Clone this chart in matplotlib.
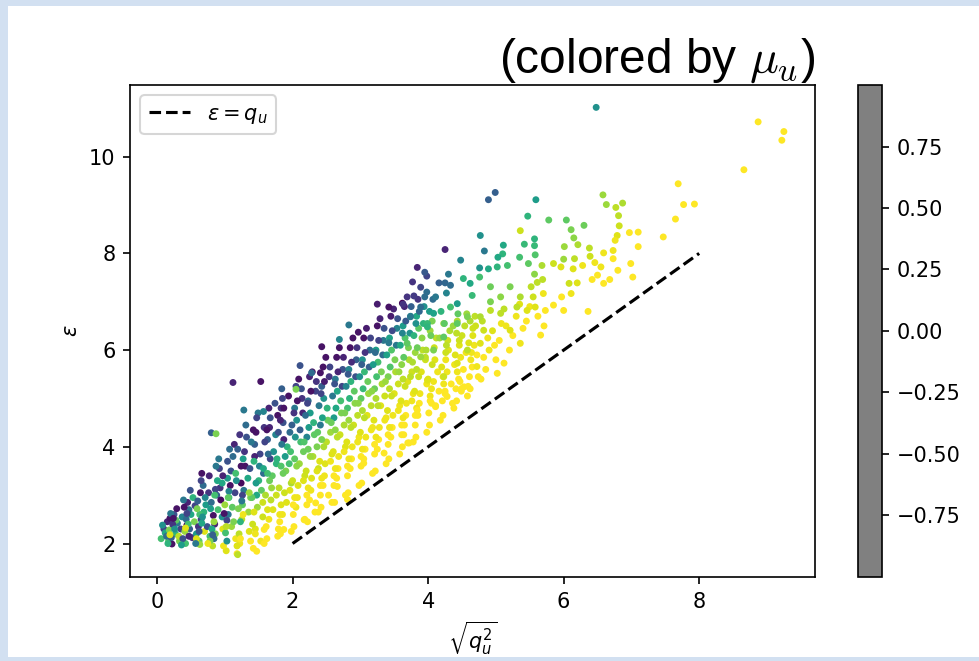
import numpy as np
import matplotlib
matplotlib.use("Agg")
import matplotlib.pyplot as plt
from matplotlib.colors import Normalize, ListedColormap
from matplotlib.cm import ScalarMappable
from matplotlib.patches import Rectangle

# core of the cloud, read column by column (q, eps, mu)
q_core = [
    0.06, 0.10, 0.12, 0.15, 0.08, 0.17, 0.14, 0.19,
    0.22, 0.25, 0.27, 0.30, 0.33, 0.29, 0.35, 0.24, 0.37, 0.32, 0.28,
    0.42, 0.45, 0.48, 0.50, 0.52, 0.49, 0.55, 0.47, 0.58, 0.53, 0.44, 0.56,
    0.62, 0.65, 0.68, 0.70, 0.72, 0.66, 0.74, 0.69, 0.76, 0.63, 0.78, 0.71, 0.80, 0.87,
    0.82, 0.85, 0.88, 0.90, 0.92, 0.86, 0.94, 0.89, 0.96, 0.91, 0.84, 0.97, 0.93,
    1.02, 1.05, 1.08, 1.10, 1.12, 1.06, 1.14, 1.09, 1.16, 1.11, 1.18, 1.04, 1.15, 1.13,
    1.22, 1.25, 1.28, 1.30, 1.32, 1.26, 1.34, 1.29, 1.36, 1.31, 1.24, 1.38, 1.27, 1.35,
    1.42, 1.45, 1.48, 1.50, 1.52, 1.46, 1.54, 1.49, 1.56, 1.51, 1.44, 1.58, 1.47, 1.53, 1.57,
    1.62, 1.65, 1.68, 1.70, 1.72, 1.66, 1.74, 1.69, 1.76, 1.63, 1.78, 1.71, 1.75, 1.67, 1.79,
    1.82, 1.85, 1.88, 1.90, 1.92, 1.86, 1.94, 1.89, 1.96, 1.83, 1.98, 1.91, 1.87, 1.95, 1.84,
    2.02, 2.05, 2.08, 2.10, 2.12, 2.06, 2.14, 2.09, 2.16, 2.11, 2.03, 2.18, 2.07, 2.15, 2.13,
    2.22, 2.25, 2.28, 2.30, 2.32, 2.26, 2.34, 2.29, 2.36, 2.31, 2.23, 2.38, 2.27, 2.35, 2.21, 2.33,
    2.42, 2.45, 2.48, 2.50, 2.52, 2.46, 2.54, 2.49, 2.56, 2.51, 2.43, 2.58, 2.47, 2.55, 2.41, 2.53,
    2.62, 2.65, 2.68, 2.70, 2.72, 2.66, 2.74, 2.69, 2.76, 2.71, 2.63, 2.78, 2.67, 2.75, 2.61, 2.73,
    2.82, 2.85, 2.88, 2.90, 2.92, 2.86, 2.94, 2.89, 2.96, 2.91, 2.83, 2.98, 2.87, 2.95, 2.81, 2.93,
    3.02, 3.05, 3.08, 3.10, 3.12, 3.06, 3.14, 3.09, 3.16, 3.11, 3.03, 3.18, 3.07, 3.15, 3.01, 3.13,
    3.22, 3.25, 3.28, 3.30, 3.32, 3.26, 3.34, 3.29, 3.36, 3.31, 3.23, 3.38, 3.27, 3.35, 3.21, 3.33,
    3.42, 3.45, 3.48, 3.50, 3.52, 3.46, 3.54, 3.49, 3.56, 3.51, 3.43, 3.58, 3.47, 3.55, 3.41, 3.53,
    3.62, 3.65, 3.68, 3.70, 3.72, 3.66, 3.74, 3.69, 3.76, 3.71, 3.63, 3.78, 3.67, 3.75, 3.61, 3.73,
    3.82, 3.85, 3.88, 3.90, 3.92, 3.86, 3.94, 3.89, 3.96, 3.91, 3.83, 3.98, 3.87, 3.95, 3.81, 3.93,
    4.02, 4.05, 4.08, 4.10, 4.12, 4.06, 4.14, 4.09, 4.16, 4.03,
    4.22, 4.25, 4.28, 4.30, 4.32, 4.26, 4.34, 4.29, 4.36, 4.23,
    4.42, 4.45, 4.48, 4.50, 4.52, 4.46, 4.54, 4.49, 4.56, 4.43,
    4.62, 4.65, 4.68, 4.70, 4.72, 4.66, 4.74, 4.69,
    4.85, 4.90, 4.95, 5.00, 5.05, 5.15, 5.20, 5.30, 5.40, 5.50,
]
eps_core = [
    2.10, 2.30, 2.22, 2.45, 2.38, 2.05, 2.15, 2.52,
    1.99, 2.60, 2.20, 2.42, 2.05, 2.72, 2.30, 2.35, 2.55, 2.15, 2.48,
    2.00, 2.85, 2.30, 2.60, 2.12, 3.10, 2.45, 2.70, 2.20, 2.95, 2.38, 2.78,
    2.05, 2.50, 3.20, 2.25, 2.80, 3.45, 2.35, 2.65, 3.05, 1.98, 2.15, 2.95, 4.29, 4.27,
    1.95, 2.40, 3.00, 2.70, 3.55, 2.20, 2.90, 3.30, 2.55, 3.75, 2.10, 2.30, 3.15,
    1.85, 2.60, 3.20, 2.35, 3.80, 2.95, 4.05, 3.50, 2.10, 2.75, 1.79, 3.35, 3.05, 2.45,
    2.00, 2.50, 3.10, 3.60, 4.20, 2.80, 3.35, 3.90, 2.25, 4.45, 3.25, 2.95, 3.75, 2.65,
    1.90, 2.30, 2.75, 3.30, 3.85, 4.30, 3.10, 4.70, 2.55, 3.60, 4.05, 4.40, 3.00, 2.05, 3.45,
    2.10, 2.50, 2.90, 3.40, 3.90, 4.40, 4.90, 3.15, 3.65, 4.15, 4.65, 2.70, 4.25, 3.75, 2.30,
    2.20, 2.60, 3.05, 3.50, 4.00, 4.50, 5.05, 3.80, 4.30, 4.80, 3.25, 2.85, 4.15, 3.65, 5.20,
    2.35, 2.75, 3.20, 3.65, 4.10, 4.55, 5.00, 5.40, 3.90, 4.35, 4.80, 3.40, 2.95, 4.70, 5.20,
    2.45, 2.90, 3.35, 3.80, 4.25, 4.70, 5.15, 5.55, 4.00, 4.50, 4.95, 3.55, 3.10, 5.35, 4.20, 2.65,
    2.75, 3.20, 3.65, 4.10, 4.55, 5.00, 5.45, 5.85, 4.30, 4.80, 5.25, 3.85, 3.40, 5.65, 4.45, 3.00,
    2.85, 3.35, 3.80, 4.25, 4.70, 5.15, 5.60, 6.05, 4.45, 4.95, 5.40, 4.00, 3.55, 5.85, 4.60, 5.25,
    3.05, 3.55, 4.00, 4.45, 4.90, 5.35, 5.80, 6.25, 4.65, 5.15, 5.60, 4.20, 3.75, 6.05, 4.80, 5.45,
    3.25, 3.75, 4.20, 4.65, 5.10, 5.55, 6.00, 6.45, 4.85, 5.35, 5.80, 4.40, 3.95, 6.25, 5.00, 5.65,
    3.50, 3.95, 4.40, 4.85, 5.30, 5.75, 6.20, 6.65, 5.05, 5.55, 6.00, 4.60, 4.15, 6.45, 5.20, 5.90,
    3.75, 4.20, 4.65, 5.10, 5.55, 6.00, 6.45, 6.85, 5.30, 5.80, 6.25, 4.85, 4.40, 6.65, 5.45, 6.10,
    4.00, 4.45, 4.90, 5.35, 5.80, 6.25, 6.70, 7.10, 5.55, 6.05, 6.50, 5.10, 4.65, 6.90, 5.70, 6.35,
    4.20, 4.65, 5.10, 5.55, 6.00, 6.45, 6.90, 7.30, 5.80, 6.25, 6.70, 5.30, 4.90, 7.10, 5.95, 6.55,
    4.45, 4.90, 5.35, 5.80, 6.25, 6.60, 5.55, 6.05, 5.15, 6.40,
    4.65, 5.10, 5.55, 6.00, 6.40, 5.80, 5.30, 6.20, 4.90, 6.55,
    4.95, 5.40, 5.85, 6.30, 5.60, 6.10, 6.50, 5.15, 5.95, 6.60,
    5.20, 5.65, 6.10, 6.50, 5.90, 6.30, 5.45, 6.70,
    5.60, 6.00, 6.40, 5.80, 6.20, 6.50, 6.00, 6.70, 6.45, 6.90,
]
mu_core = [
    0.4, -0.6, 0.2, -0.8, 0.0, 0.5, -0.3, -0.9,
    -0.9, -0.5, 0.3, -0.2, 0.6, -0.9, -0.6, 0.1, -0.1, 0.8, 0.5,
    0.4, -0.8, -0.4, 0.2, -0.7, -0.5, 0.6, -0.2, 0.1, 0.3, -0.95, -0.6,
    0.5, -0.6, -0.3, 0.9, 0.1, -0.9, -0.5, 0.3, -0.7, 0.7, 0.4, -0.1, -0.4, 0.6,
    0.8, -0.8, -0.4, 0.4, -0.6, 0.6, -0.95, 0.2, 0.0, -0.2, -0.3, 0.9, -0.7,
    0.9, -0.2, -0.9, 0.7, -0.3, 0.3, -0.8, -0.5, 0.95, 0.5, 1.0, 0.1, -0.6, 0.6,
    0.95, 0.8, -0.2, -0.9, -0.5, 0.5, 0.2, -0.7, 0.9, -0.3, -0.95, 0.6, 0.1, 0.7,
    1.0, 0.9, 0.7, 0.3, -0.6, -0.9, 0.5, -0.2, 0.85, -0.1, -0.4, -0.7, 0.2, 0.95, -0.3,
    1.0, 0.95, 0.8, 0.5, 0.0, -0.8, -0.5, 0.7, 0.3, -0.4, -0.9, 0.9, -0.1, -0.6, 1.0,
    1.0, 0.95, 0.85, 0.6, 0.3, -0.5, -0.9, 0.1, -0.3, -0.7, 0.75, 0.9, -0.8, 0.4, -0.4,
    1.0, 0.95, 0.9, 0.7, 0.4, 0.0, -0.7, -0.9, 0.55, -0.4, -0.2, 0.85, 0.95, -0.8, -0.5,
    1.0, 1.0, 0.9, 0.75, 0.5, 0.1, -0.6, -0.9, 0.6, 0.3, -0.3, 0.85, 0.95, -0.7, -0.1, 1.0,
    1.0, 1.0, 0.9, 0.8, 0.55, 0.0, -0.7, -0.9, 0.7, 0.3, -0.4, 0.9, 0.95, -0.6, -0.2, 1.0,
    1.0, 1.0, 0.95, 0.85, 0.6, 0.2, -0.5, -0.9, 0.75, 0.4, -0.2, 0.9, 1.0, -0.8, 0.1, -0.6,
    1.0, 1.0, 0.95, 0.85, 0.65, 0.3, -0.4, -0.9, 0.8, 0.5, -0.1, 0.95, 1.0, -0.7, 0.4, -0.5,
    1.0, 1.0, 0.95, 0.9, 0.7, 0.35, -0.3, -0.85, 0.8, 0.55, 0.0, 0.95, 1.0, -0.6, 0.5, -0.4,
    1.0, 1.0, 0.95, 0.9, 0.75, 0.4, -0.2, -0.8, 0.85, 0.6, 0.1, 0.95, 1.0, -0.5, 0.55, -0.3,
    1.0, 1.0, 0.95, 0.9, 0.75, 0.45, -0.1, -0.8, 0.85, 0.6, 0.15, 0.95, 1.0, -0.5, 0.6, -0.2,
    1.0, 1.0, 0.95, 0.9, 0.75, 0.45, -0.1, -0.7, 0.85, 0.6, 0.1, 0.95, 1.0, -0.4, 0.65, 0.0,
    1.0, 1.0, 0.95, 0.9, 0.8, 0.5, 0.0, -0.6, 0.85, 0.65, 0.2, 0.95, 1.0, -0.3, 0.7, 0.3,
    1.0, 1.0, 0.95, 0.9, 0.8, 0.6, 0.95, 0.85, 1.0, 0.7,
    1.0, 1.0, 0.95, 0.9, 0.75, 0.95, 1.0, 0.85, 1.0, 0.7,
    1.0, 1.0, 0.95, 0.85, 1.0, 0.9, 0.8, 1.0, 0.95, 0.75,
    1.0, 1.0, 0.95, 0.85, 1.0, 0.9, 1.0, 0.8,
    1.0, 0.95, 0.9, 1.0, 1.0, 0.95, 1.0, 0.95, 1.0, 0.95,
]

# second pass through the core, between the columns above
q_fill = [
    0.18, 0.21, 0.23, 0.20, 0.26, 0.16, 0.24, 0.19,
    0.38, 0.41, 0.43, 0.40, 0.46, 0.36, 0.44, 0.39, 0.42, 0.47,
    0.58, 0.61, 0.63, 0.60, 0.66, 0.57, 0.64, 0.59, 0.62, 0.67, 0.65,
    0.78, 0.81, 0.83, 0.80, 0.86, 0.77, 0.84, 0.79, 0.82, 0.87, 0.85, 0.75,
    0.98, 1.01, 1.03, 1.00, 1.06, 0.97, 1.04, 0.99, 1.02, 1.07, 1.05, 0.96, 1.03,
    1.18, 1.21, 1.23, 1.20, 1.26, 1.17, 1.24, 1.19, 1.22, 1.27, 1.25, 1.16, 1.23,
    1.38, 1.41, 1.43, 1.40, 1.46, 1.37, 1.44, 1.39, 1.42, 1.47, 1.45, 1.36, 1.43,
    1.58, 1.61, 1.63, 1.60, 1.66, 1.57, 1.64, 1.59, 1.62, 1.67, 1.65, 1.56, 1.63,
    1.78, 1.81, 1.83, 1.80, 1.86, 1.77, 1.84, 1.79, 1.82, 1.87, 1.85, 1.76, 1.83, 1.81,
    1.98, 2.01, 2.03, 2.00, 2.06, 1.97, 2.04, 1.99, 2.02, 2.07, 2.05, 1.96, 2.03, 2.01,
    2.18, 2.21, 2.23, 2.20, 2.26, 2.17, 2.24, 2.19, 2.22, 2.27, 2.25, 2.16, 2.23, 2.21,
    2.38, 2.41, 2.43, 2.40, 2.46, 2.37, 2.44, 2.39, 2.42, 2.47, 2.45, 2.36, 2.43, 2.41,
    2.58, 2.61, 2.63, 2.60, 2.66, 2.57, 2.64, 2.59, 2.62, 2.67, 2.65, 2.56, 2.63, 2.61,
    2.78, 2.81, 2.83, 2.80, 2.86, 2.77, 2.84, 2.79, 2.82, 2.87, 2.85, 2.76, 2.83, 2.81,
    2.98, 3.01, 3.03, 3.00, 3.06, 2.97, 3.04, 2.99, 3.02, 3.07, 3.05, 2.96, 3.03, 3.01,
    3.18, 3.21, 3.23, 3.20, 3.26, 3.17, 3.24, 3.19, 3.22, 3.27, 3.25, 3.16, 3.23, 3.21,
    3.38, 3.41, 3.43, 3.40, 3.46, 3.37, 3.44, 3.39, 3.42, 3.47, 3.45, 3.36, 3.43, 3.41,
    3.58, 3.61, 3.63, 3.60, 3.66, 3.57, 3.64, 3.59, 3.62, 3.67, 3.65, 3.56, 3.63, 3.61,
    3.78, 3.81, 3.83, 3.80, 3.86, 3.77, 3.84, 3.79, 3.82, 3.87, 3.85, 3.76, 3.83, 3.81,
    3.98, 4.01, 4.03, 4.00, 4.06, 3.97, 4.04, 3.99, 4.02, 4.07, 4.05, 3.96, 4.03,
    4.18, 4.21, 4.23, 4.20, 4.26, 4.17, 4.24, 4.19, 4.22, 4.27, 4.25,
    4.38, 4.41, 4.43, 4.40, 4.46, 4.37, 4.44, 4.39, 4.42, 4.47,
    4.58, 4.61, 4.63, 4.60, 4.66, 4.57, 4.64, 4.59, 4.62,
    4.78, 4.82, 4.88, 4.80, 4.92, 4.98, 5.08, 5.12, 5.25, 5.35, 5.45, 5.55, 5.62,
]
eps_fill = [
    2.28, 2.12, 2.40, 2.62, 2.30, 2.00, 2.52, 2.18,
    2.10, 2.25, 2.50, 2.75, 2.40, 1.97, 2.62, 2.90, 2.32, 2.15,
    2.10, 2.35, 2.60, 2.88, 2.42, 2.00, 3.05, 2.72, 2.25, 2.55, 3.30,
    2.05, 2.30, 2.58, 2.85, 3.12, 3.40, 2.45, 2.72, 2.18, 3.60, 3.00, 2.00,
    1.95, 2.22, 2.48, 2.80, 3.08, 3.40, 3.70, 2.62, 2.35, 3.95, 2.95, 3.25, 2.05,
    1.95, 2.20, 2.45, 2.72, 3.00, 3.30, 3.60, 3.95, 4.25, 2.60, 2.88, 3.45, 2.10,
    2.05, 2.40, 2.65, 2.95, 3.25, 3.55, 3.80, 4.10, 4.35, 4.60, 2.20, 3.05, 3.70,
    2.00, 2.35, 2.70, 3.00, 3.30, 3.55, 3.85, 4.10, 4.35, 4.60, 4.80, 2.85, 3.45,
    2.15, 2.45, 2.80, 3.15, 3.45, 3.75, 4.05, 4.30, 4.55, 4.80, 5.00, 3.00, 3.60, 2.60,
    2.25, 2.60, 2.95, 3.30, 3.60, 3.90, 4.20, 4.45, 4.70, 4.95, 5.25, 3.10, 3.75, 2.80,
    2.50, 2.80, 3.15, 3.50, 3.80, 4.10, 4.40, 4.65, 4.90, 5.15, 5.45, 3.30, 3.95, 3.00,
    2.65, 3.00, 3.35, 3.70, 4.00, 4.30, 4.60, 4.85, 5.10, 5.35, 5.65, 3.50, 4.15, 3.20,
    2.85, 3.20, 3.55, 3.90, 4.20, 4.50, 4.80, 5.05, 5.30, 5.55, 5.85, 3.70, 4.35, 3.40,
    3.00, 3.40, 3.75, 4.10, 4.40, 4.70, 5.00, 5.25, 5.50, 5.75, 6.05, 3.90, 4.55, 3.60,
    3.20, 3.60, 3.95, 4.30, 4.60, 4.90, 5.20, 5.45, 5.70, 5.95, 6.25, 4.10, 4.75, 3.80,
    3.45, 3.85, 4.20, 4.55, 4.85, 5.15, 5.45, 5.70, 5.95, 6.20, 6.50, 4.35, 5.00, 4.05,
    3.65, 4.05, 4.40, 4.75, 5.05, 5.35, 5.65, 5.90, 6.15, 6.40, 6.70, 4.55, 5.20, 4.25,
    3.85, 4.25, 4.60, 4.95, 5.25, 5.55, 5.85, 6.10, 6.35, 6.60, 6.90, 4.75, 5.40, 4.45,
    4.10, 4.45, 4.80, 5.15, 5.45, 5.75, 6.05, 6.30, 6.55, 6.80, 7.05, 4.95, 5.60, 4.65,
    4.30, 4.70, 5.05, 5.40, 5.70, 6.00, 6.30, 6.55, 6.80, 7.05, 5.20, 5.85, 4.95,
    4.55, 4.95, 5.30, 5.65, 5.95, 6.25, 6.55, 6.80, 5.45, 6.10, 5.15,
    4.80, 5.20, 5.55, 5.90, 6.20, 6.50, 6.75, 5.70, 6.35, 5.35,
    5.05, 5.45, 5.80, 6.15, 6.45, 6.75, 5.95, 5.25, 6.60,
    5.40, 5.85, 6.25, 6.60, 7.00, 6.10, 6.55, 6.85, 6.30, 6.95, 6.60, 7.10, 6.70,
]
mu_fill = [
    0.6, -0.4, -0.7, -0.2, 0.0, 0.3, -0.9, 0.9,
    -0.5, 0.7, -0.3, -0.9, 0.4, 0.1, -0.6, -0.2, 0.9, -0.8,
    0.9, -0.7, 0.4, -0.4, 0.2, -0.2, -0.9, 0.6, -0.5, 0.0, -0.6,
    0.6, 0.2, -0.9, -0.3, -0.6, -0.8, 0.7, 0.1, -0.4, -0.2, 0.4, 0.95,
    0.95, 0.4, -0.6, 0.7, -0.1, -0.8, -0.5, -0.9, 0.8, -0.3, 0.5, 0.2, 0.0,
    0.9, 0.8, 0.3, 0.6, -0.6, 0.0, -0.9, -0.4, -0.7, 0.95, -0.2, 0.4, 1.0,
    1.0, 0.85, 0.9, 0.5, 0.1, -0.5, -0.8, -0.2, -0.9, -0.6, 0.95, 0.7, 0.3,
    1.0, 1.0, 0.9, 0.75, 0.55, 0.2, -0.3, -0.6, -0.9, -0.5, -0.8, 0.85, 0.4,
    1.0, 1.0, 0.9, 0.8, 0.55, 0.3, -0.2, -0.5, -0.8, -0.9, -0.6, 0.85, 0.45, 0.95,
    1.0, 1.0, 0.95, 0.85, 0.65, 0.4, 0.0, -0.4, -0.7, -0.9, -0.6, 0.9, 0.5, 1.0,
    1.0, 1.0, 0.95, 0.85, 0.7, 0.45, 0.1, -0.3, -0.6, -0.9, -0.8, 0.9, 0.55, 1.0,
    1.0, 1.0, 0.95, 0.9, 0.75, 0.5, 0.15, -0.2, -0.6, -0.85, -0.9, 0.9, 0.6, 1.0,
    1.0, 1.0, 0.95, 0.9, 0.8, 0.55, 0.2, -0.2, -0.5, -0.8, -0.9, 0.95, 0.65, 1.0,
    1.0, 1.0, 0.95, 0.9, 0.8, 0.6, 0.3, -0.1, -0.45, -0.75, -0.9, 0.95, 0.7, 1.0,
    1.0, 1.0, 0.95, 0.9, 0.8, 0.65, 0.35, 0.0, -0.4, -0.7, -0.9, 0.95, 0.75, 1.0,
    1.0, 1.0, 0.95, 0.9, 0.8, 0.65, 0.4, 0.1, -0.3, -0.6, -0.9, 0.95, 0.75, 1.0,
    1.0, 1.0, 0.95, 0.9, 0.85, 0.7, 0.45, 0.15, -0.2, -0.55, -0.85, 0.95, 0.8, 1.0,
    1.0, 1.0, 0.95, 0.9, 0.85, 0.7, 0.5, 0.2, -0.1, -0.45, -0.8, 0.95, 0.8, 1.0,
    1.0, 1.0, 0.95, 0.9, 0.85, 0.75, 0.55, 0.3, 0.0, -0.35, -0.7, 0.95, 0.8, 1.0,
    1.0, 1.0, 0.95, 0.9, 0.85, 0.75, 0.55, 0.35, 0.1, -0.3, 0.95, 0.8, 1.0,
    1.0, 1.0, 0.95, 0.9, 0.85, 0.7, 0.5, 0.3, 0.95, 0.8, 1.0,
    1.0, 1.0, 0.95, 0.9, 0.85, 0.7, 0.5, 0.95, 0.8, 1.0,
    1.0, 1.0, 0.95, 0.9, 0.85, 0.7, 0.95, 1.0, 0.75,
    1.0, 1.0, 0.95, 0.8, 0.6, 1.0, 0.95, 0.8, 1.0, 0.9, 1.0, 0.85, 1.0,
]

# sparser upper-right part of the cloud
q_upper = [
    4.99, 4.89, 5.59, 5.47, 5.78, 6.04, 6.30, 6.58, 6.63, 6.77,
    6.87, 6.81, 6.82, 6.79, 6.76, 6.97, 7.10, 7.10, 6.99, 7.02,
    6.80, 6.68, 6.59, 6.59, 6.73, 6.73, 6.55, 6.50, 6.42, 6.46,
    6.38, 6.39, 6.28, 6.36, 6.11, 6.15, 6.21, 6.01, 6.16, 6.20,
    6.14, 6.00, 5.96, 5.85, 6.08, 6.11, 6.00, 5.97, 5.85, 5.73,
    5.66, 5.71, 5.57, 5.57, 5.42, 5.58, 5.35, 5.48, 5.57, 5.68,
    5.69, 5.61, 5.52, 5.36, 5.11, 5.10, 5.03, 5.17, 5.02, 4.77,
    4.83, 4.48, 4.25, 4.76, 4.89, 4.52, 4.30, 4.16, 4.25, 4.33,
    3.98, 3.84, 3.95, 3.77, 3.62, 3.79, 3.98, 4.11, 4.27, 4.43,
    4.62, 4.65, 4.76, 4.92, 5.07, 5.21, 5.36, 5.31, 5.46, 5.58,
    5.07, 5.21, 5.36, 5.12, 5.02, 4.77, 4.82, 4.58, 4.33, 4.08,
    3.89, 3.74, 3.99, 4.23, 4.43, 4.58, 4.43, 4.72, 4.53, 4.28,
    4.11, 3.84, 3.70, 3.64, 4.08, 3.89, 3.69, 3.74, 3.99, 4.23,
    4.77, 4.92, 5.70,
]
eps_upper = [
    9.26, 9.11, 9.11, 8.77, 8.69, 8.69, 8.58, 9.21, 9.01, 8.95,
    9.04, 8.78, 8.57, 8.37, 8.27, 8.43, 8.44, 8.14, 7.79, 7.51,
    7.65, 7.46, 7.38, 8.01, 8.06, 7.89, 7.72, 7.55, 7.46, 7.81,
    8.11, 7.94, 7.75, 6.80, 8.49, 8.32, 8.18, 8.14, 7.89, 7.39,
    7.68, 7.88, 7.72, 7.79, 7.38, 7.17, 6.82, 7.10, 6.93, 6.82,
    6.31, 6.50, 8.30, 8.16, 8.19, 7.97, 7.92, 7.79, 7.57, 7.75,
    7.46, 7.40, 7.31, 8.47, 8.17, 7.99, 7.92, 7.75, 7.72, 8.37,
    8.05, 7.86, 8.08, 7.70, 7.68, 7.48, 7.57, 7.39, 7.39, 7.34,
    7.53, 7.71, 7.61, 7.41, 6.97, 7.12, 7.20, 7.10, 7.18, 6.96,
    7.38, 7.13, 7.51, 7.31, 7.10, 7.31, 7.10, 6.89, 6.82, 6.89,
    6.76, 6.41, 6.14, 5.73, 5.52, 6.14, 6.41, 6.69, 6.89, 6.76,
    6.89, 6.69, 6.48, 6.27, 6.55, 6.00, 5.73, 5.66, 5.24, 5.04,
    4.83, 4.76, 4.08, 4.25, 6.00, 5.86, 6.14, 5.45, 5.38, 5.45,
    6.69, 6.82, 7.17,
]
mu_upper = [
    -0.4, -0.4, 0.1, 0.3, 0.5, 0.5, 0.55, 0.7, 0.7, 0.8,
    0.75, 0.8, 0.85, 0.9, 0.95, 1.0, 1.0, 1.0, 1.0, 1.0,
    1.0, 1.0, 1.0, 0.95, 0.95, 1.0, 0.95, 1.0, 1.0, 0.95,
    0.8, 0.85, 0.95, 1.0, 0.6, 0.65, 0.75, 0.7, 0.8, 0.9,
    0.9, 0.7, 0.9, 0.85, 0.85, 0.95, 1.0, 1.0, 1.0, 1.0,
    1.0, 1.0, 0.3, 0.35, 0.35, 0.45, 0.4, 0.5, 0.65, 0.75,
    0.8, 0.8, 0.8, 0.85, 0.2, 0.3, 0.2, 0.4, 0.3, 0.0,
    -0.2, -0.1, -0.8, 0.0, 0.2, 0.3, -0.2, -0.4, -0.35, -0.3,
    -0.6, -0.8, -0.45, -0.7, -1.0, -0.65, -0.3, -0.2, -0.1, 0.1,
    0.2, 0.35, 0.4, 0.55, 0.65, 0.6, 0.75, 0.8, 0.9, 0.9,
    0.8, 0.9, 0.95, 1.0, 1.0, 0.9, 0.85, 0.6, 0.4, 0.15,
    -0.3, -0.2, 0.3, 0.5, 0.5, 0.8, 0.9, 0.95, 1.0, 1.0,
    1.0, 1.0, 1.0, 1.0, 0.6, 0.7, 0.5, 0.8, 0.9, 0.85,
    0.75, 0.8, 0.95,
]

# isolated points at the edges of the cloud
q_edge = [
    6.48, 8.87, 9.25, 9.22, 8.66, 7.69, 7.77, 7.93, 7.65, 7.47,
    1.12, 1.28, 1.53, 1.57, 2.05, 2.11, 2.28, 2.41, 2.43, 2.69,
    2.83, 2.97, 3.25, 3.42, 3.63,
    1.47, 1.19, 1.58, 1.87, 2.17, 2.34, 2.66, 2.81, 3.05, 3.35,
    3.72, 3.84, 4.11, 4.50,
]
eps_edge = [
    11.02, 10.72, 10.52, 10.34, 9.73, 9.44, 9.01, 9.02, 8.71, 8.34,
    5.33, 4.76, 5.35, 4.73, 5.19, 5.68, 5.53, 5.53, 6.07, 6.22,
    6.52, 6.37, 6.95, 6.89, 6.95,
    1.84, 1.77, 2.29, 2.29, 2.49, 2.84, 3.18, 2.91, 3.66, 3.87,
    4.08, 4.66, 4.85, 5.21,
]
mu_edge = [
    0.0, 1.0, 1.0, 1.0, 1.0, 1.0, 1.0, 1.0, 1.0, 1.0,
    -0.8, -0.2, -0.9, -0.1, 0.6, -0.5, -0.3, -0.9, -0.9, -0.1,
    -0.2, -0.9, -0.85, -0.9, -0.7,
    1.0, 0.8, 1.0, 1.0, 1.0, 1.0, 1.0, 1.0, 1.0, 1.0,
    1.0, 1.0, 1.0, 1.0,
]

line_q = [2, 8]
cbar_ticks = [-0.75, -0.5, -0.25, 0.0, 0.25, 0.5, 0.75]

q = np.array(q_core + q_fill + q_upper + q_edge)
eps = np.array(eps_core + eps_fill + eps_upper + eps_edge)
mu = np.array(mu_core + mu_fill + mu_upper + mu_edge)

fig = plt.figure(figsize=(979 / 150, 661 / 150), dpi=150)
fig.patch.set_facecolor("#d2e0f1")
fig.patches.append(Rectangle((8 / 979, 4 / 661), 1, 1 - 10 / 661,
                             transform=fig.transFigure, facecolor="white",
                             edgecolor="none", zorder=-1))

ax = fig.add_axes([0.1328, 0.1271, 0.6997, 0.7443])
ax.scatter(q, eps, c=mu, cmap="viridis", vmin=-1, vmax=1, s=11, linewidths=0)
ax.plot(line_q, line_q, "k--", label=r"$\varepsilon = q_u$")
ax.set_xlabel(r"$\sqrt{q_u^2}$")
ax.set_ylabel(r"$\varepsilon$")
ax.legend(loc="upper left")
ax.set_title(r"(colored by $\mu_u$)", loc="right", fontsize=23,
             fontfamily="Liberation Sans", math_fontfamily="cm")

cax = fig.add_axes([0.8764, 0.1271, 0.0245, 0.7443])
sm = ScalarMappable(norm=Normalize(-1, 1), cmap=ListedColormap(["grey"]))
cb = fig.colorbar(sm, cax=cax)
cb.set_ticks(cbar_ticks)

fig.savefig("out.png", dpi=150, facecolor=fig.get_facecolor())
